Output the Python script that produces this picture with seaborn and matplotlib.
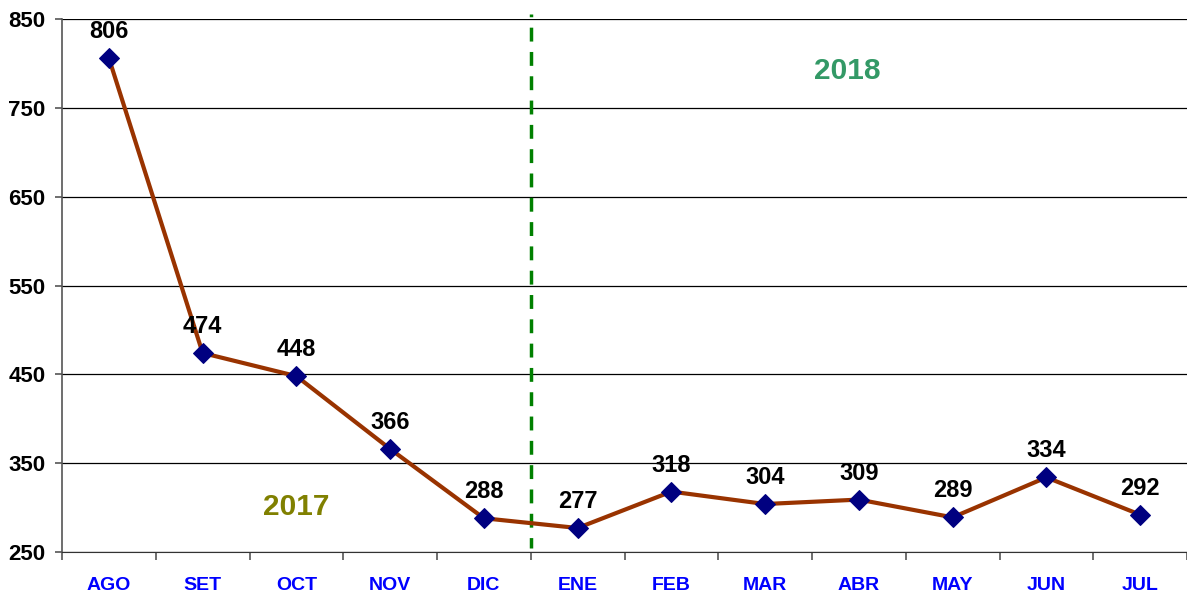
import numpy as np
import pandas as pd
import matplotlib.pyplot as plt
import seaborn as sns

meses = ['AGO', 'SET', 'OCT', 'NOV', 'DIC', 'ENE', 'FEB', 'MAR', 'ABR', 'MAY', 'JUN', 'JUL']
valores = [806, 474, 448, 366, 288, 277, 318, 304, 309, 289, 334, 292]
y_ticks = [250, 350, 450, 550, 650, 750, 850]

df = pd.DataFrame({'mes': meses, 'valor': valores})
df['pos'] = np.arange(len(meses))

sns.set_style('white')
plt.rcParams['font.family'] = ['Liberation Sans', 'DejaVu Sans']

fig = plt.figure(figsize=(11.87, 5.92), dpi=100)
ax = fig.add_axes([62 / 1187, 40 / 592, 1 - 62 / 1187, 533 / 592])

sns.lineplot(data=df, x='pos', y='valor', ax=ax, color='#993300', linewidth=3,
             marker='D', markersize=10, markerfacecolor='#000080',
             markeredgecolor='#000080', zorder=3)

for x, v in zip(df['pos'], valores):
    ax.annotate(str(v), (x, v), xytext=(0, 19), textcoords='offset points',
                ha='center', va='center', fontsize=17, fontweight='bold', color='black')

ax.set_xlim(-0.5, len(meses) - 0.5)
ax.set_ylim(250, 850)
ax.set_yticks(y_ticks)
ax.set_yticklabels([str(t) for t in y_ticks], fontsize=16, fontweight='bold', color='black')
ax.yaxis.grid(True, color='black', linewidth=0.9)
ax.set_axisbelow(True)

ax.set_xticks(np.arange(len(meses)))
ax.set_xticklabels(meses, fontsize=14, fontweight='bold', color='#0000FF')
ax.tick_params(axis='x', which='major', bottom=True, length=0, pad=18)
ax.set_xticks(np.arange(len(meses) + 1) - 0.5, minor=True)
ax.tick_params(axis='x', which='minor', bottom=True, length=6, color='#555555', width=1.2, direction='out')
ax.tick_params(axis='y', left=True, length=5, color='#555555', width=1.2, direction='out', pad=7)

for s in ['top', 'right']:
    ax.spines[s].set_visible(False)
ax.spines['left'].set_color('#555555')
ax.spines['bottom'].set_color('#333333')
ax.spines['left'].set_linewidth(1.2)

ax.axvline(4.5, ymin=0.008, ymax=1.01, clip_on=False, color='#008000',
           linestyle=(1, (4, 3)), linewidth=2.5, zorder=2)
ax.text(2.0, 301, '2017', color='#808000', fontsize=21.5, fontweight='bold', ha='center', va='center')
ax.text(7.88, 792, '2018', color='#339966', fontsize=21.5, fontweight='bold', ha='center', va='center')

ax.set_xlabel('')
ax.set_ylabel('')
fig.savefig('out.png', dpi=100)
